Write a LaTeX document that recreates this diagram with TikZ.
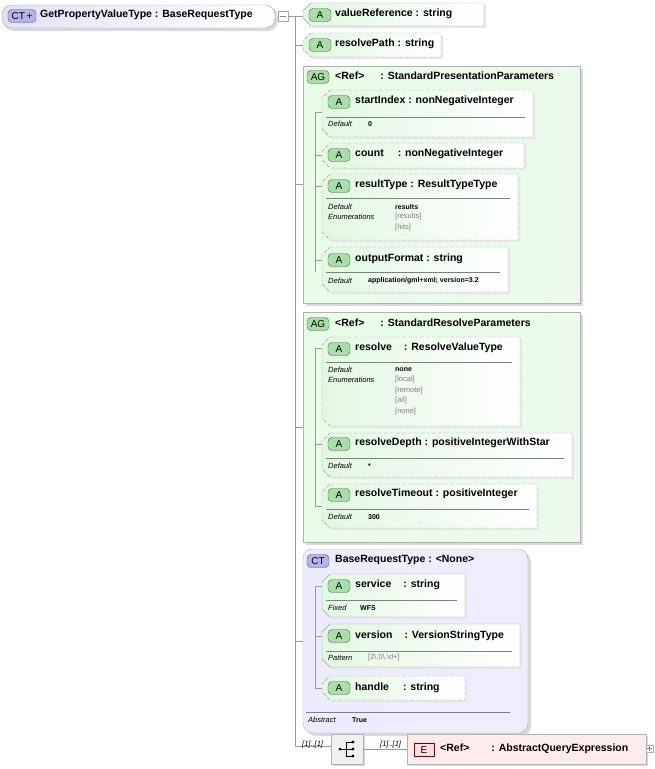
\documentclass[tikz,border=0pt]{standalone}
\usepackage{fontspec}
\setmainfont{Liberation Sans}
\begin{document}
\definecolor{agreen}{RGB}{226,248,226}
\definecolor{bgreen}{RGB}{130,210,130}
\definecolor{ctfill}{RGB}{225,225,250}
\definecolor{ctbadge}{RGB}{180,180,235}
\definecolor{efill}{RGB}{253,222,222}
\begin{tikzpicture}[x=1pt,y=-1pt,
  hdr/.style={anchor=west,font=\fontsize{10.5}{12}\selectfont\bfseries,inner sep=0},
  sml/.style={anchor=west,font=\fontsize{7.5}{8}\selectfont\itshape,inner sep=0},
  val/.style={anchor=west,font=\fontsize{7}{8}\selectfont\bfseries,inner sep=0},
  enm/.style={anchor=west,font=\fontsize{7.5}{8}\selectfont,text=gray,inner sep=0},
  conn/.style={draw=gray!80,line width=0.6pt},
  dsh/.style={dash pattern=on 4pt off 2pt},
  badge/.style={draw=gray!70!black,rounded corners=4pt,font=\fontsize{10}{10}\selectfont,inner sep=0,minimum height=13pt}]
\useasboundingbox (0,0) rectangle (654,769);
\newcommand\abox[6][]{%
  \fill[gray!18] (#2+8+2,#3+2) -- (#4+2,#3+2) -- (#4+2,#5+2) -- (#2+8+2,#5+2) -- (#2+2,#5-8+2) -- (#2+2,#3+8+2) -- cycle;
  \path[draw=gray!75,left color=agreen,right color=white,#1] (#2+8,#3) -- (#4,#3) -- (#4,#5) -- (#2+8,#5) -- (#2,#5-8) -- (#2,#3+8) -- cycle;
  \node[badge,fill=bgreen!70,minimum width=22pt] at (#2+17,#6) {A};}
% root
\fill[gray!30,rounded corners=10pt] (4,7) rectangle (278,31);
\draw[gray!70,rounded corners=10pt,left color=ctfill,right color=white] (2,5) rectangle (275,28);
\node[badge,fill=ctbadge,minimum width=28pt] (ctb) at (22,16) {CT\,\raisebox{-0.5pt}{+}};
\node[hdr] (root) at (40,15) {GetPropertyValueType : BaseRequestType};
\draw[gray!70,fill=white] (278,11) rectangle (288,21);
\draw[gray] (280,16) -- (286,16);
\draw[conn] (288,16) -- (303,16);
\draw[conn] (295,16) -- (295,746) -- (331,746);
\draw[conn] (295,45) -- (303,45);
\abox{303}{3}{484}{26}{15}
\node[hdr] at (335,14) {valueReference : string};
\abox[dsh]{303}{33}{441}{57}{45}
\node[hdr] at (335,44) {resolvePath : string};
% AG1
\draw[conn] (295,184) -- (303,184);
\fill[gray!30] (306,69) rectangle (583,306);
\draw[gray!60,left color=agreen!80!green!30,right color=agreen!70] (303,66) rectangle (580,303);
\node[badge,fill=bgreen!70,minimum width=22pt] at (318,77) {AG};
\node[hdr] at (335,76) {<Ref>\hspace{16pt}: StandardPresentationParameters};
\draw[conn] (315,112) -- (315,272);
\foreach \yy in {112,155,186,260} \draw[conn] (315,\yy) -- (322,\yy);
\abox[dsh]{322}{90}{533}{137}{102}
\node[hdr] at (355,101) {startIndex : nonNegativeInteger};
\draw[gray] (326,117) -- (525,117);
\node[sml] at (328,124) {Default}; \node[val] at (368,124) {0};
\abox[dsh]{322}{143}{524}{168}{155}
\node[hdr] at (355,154) {count\hspace{14pt}: nonNegativeInteger};
\abox[dsh]{322}{174}{518}{240}{186}
\node[hdr] at (355,185) {resultType : ResultTypeType};
\draw[gray] (326,198) -- (510,198);
\node[sml] at (328,207) {Default}; \node[val] at (395,207) {results};
\node[sml] at (328,217) {Enumerations}; \node[enm] at (395,217) {[results]};
\node[enm] at (395,228) {[hits]};
\abox[dsh]{322}{247}{508}{292}{260}
\node[hdr] at (355,259) {outputFormat : string};
\draw[gray] (326,272) -- (500,272);
\node[sml] at (328,281) {Default}; \node[val] at (368,281) {application/gml+xml; version=3.2};
% AG2
\draw[conn] (295,427) -- (303,427);
\fill[gray!30] (306,315) rectangle (583,545);
\draw[gray!60,left color=agreen!80!green!30,right color=agreen!70] (303,312) rectangle (580,542);
\node[badge,fill=bgreen!70,minimum width=22pt] at (318,324) {AG};
\node[hdr] at (335,323) {<Ref>\hspace{16pt}: StandardResolveParameters};
\draw[conn] (315,348) -- (315,506);
\foreach \yy in {348,444,506} \draw[conn] (315,\yy) -- (322,\yy);
\abox[dsh]{322}{337}{520}{426}{349}
\node[hdr] at (355,348) {resolve\hspace{12pt}: ResolveValueType};
\draw[gray] (326,362) -- (512,362);
\node[sml] at (328,370) {Default}; \node[val] at (395,370) {none};
\node[sml] at (328,380) {Enumerations}; \node[enm] at (395,380) {[local]};
\node[enm] at (395,391) {[remote]}; \node[enm] at (395,401) {[all]}; \node[enm] at (395,412) {[none]};
\abox[dsh]{322}{433}{572}{477}{444}
\node[hdr] at (355,443) {resolveDepth : positiveIntegerWithStar};
\draw[gray] (326,458) -- (564,458);
\node[sml] at (328,466) {Default}; \node[val] at (368,466) {*};
\abox[dsh]{322}{484}{537}{528}{495}
\node[hdr] at (355,494) {resolveTimeout : positiveInteger};
\draw[gray] (326,509) -- (529,509);
\node[sml] at (328,517) {Default}; \node[val] at (368,517) {300};
% CT
\draw[conn] (295,641) -- (303,641);
\fill[gray!30,rounded corners=10pt] (306,552) rectangle (531,736);
\draw[gray!60,rounded corners=10pt,left color=ctfill!80!blue!25,right color=ctfill!60] (303,549) rectangle (528,733);
\node[badge,fill=ctbadge,minimum width=22pt] at (318,561) {CT};
\node[hdr] at (335,560) {BaseRequestType : <None>};
\draw[conn] (315,586) -- (315,688);
\foreach \yy in {586,636,688} \draw[conn] (315,\yy) -- (322,\yy);
\abox{322}{574}{465}{617}{586}
\node[hdr] at (355,585) {service\hspace{12pt}: string};
\draw[gray] (326,600) -- (457,600);
\node[sml] at (328,608) {Fixed}; \node[val] at (360,608) {WFS};
\abox{322}{624}{520}{667}{636}
\node[hdr] at (355,636) {version\hspace{12pt}: VersionStringType};
\draw[gray] (326,651) -- (512,651);
\node[sml] at (328,658) {Pattern}; \node[enm] at (368,658) {[2\textbackslash.0\textbackslash.\textbackslash d+]};
\abox[dsh]{322}{676}{465}{700}{688}
\node[hdr] at (355,688) {handle\hspace{14pt}: string};
\draw[gray] (306,712) -- (510,712);
\node[sml] at (308,720) {Abstract}; \node[val] at (352,720) {True};
% sequence
\node[sml] at (302,745) {[1]..[1]};
\fill[gray!30] (333,736) rectangle (365,766);
\draw[gray!60,fill=gray!12] (331,734) rectangle (363,764);
\fill (340,749) circle (1.5pt);
\draw (340,749) -- (346,749) (346,742) -- (346,756) (346,742) -- (352,742) (346,749) -- (352,749) (346,756) -- (352,756);
\foreach \yy in {742,749,756} \fill (353,\yy) circle (1.6pt);
\draw[conn] (363,749) -- (407,749);
\node[sml] at (380,745) {[1]..[1]};
\fill[gray!30] (409,736) rectangle (648,766);
\draw[gray!60,fill=efill!60] (407,734) rectangle (646,764);
\node[badge,rounded corners=0pt,fill=efill,draw=red!50!black,minimum width=20pt] at (424,750) {E};
\node[hdr] at (440,749) {<Ref>\hspace{22pt}: AbstractQueryExpression};
\draw[gray!60,fill=white] (646,745) rectangle (653,752);
\draw[gray] (647,748.5) -- (652,748.5) (649.5,746) -- (649.5,751);
\end{tikzpicture}
\end{document}
